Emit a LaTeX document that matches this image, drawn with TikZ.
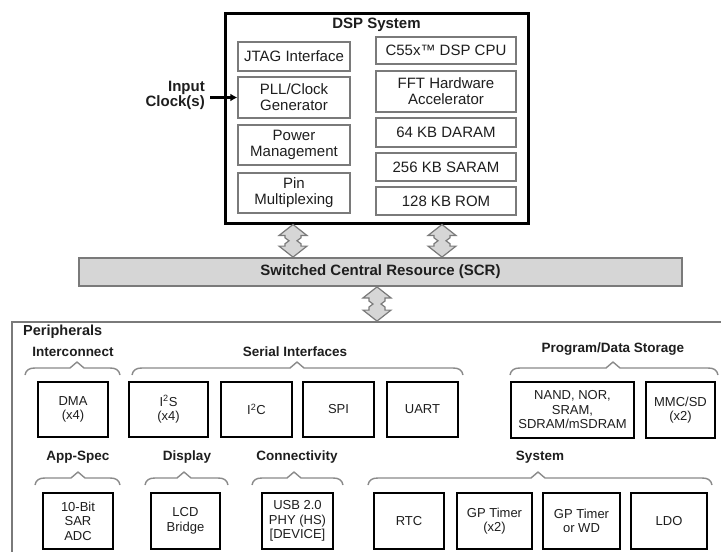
\documentclass[tikz,border=0pt]{standalone}
\usepackage{fontspec}
\setmainfont{Liberation Sans}
\usetikzlibrary{arrows.meta,calc}
\definecolor{edgegray}{HTML}{7A7A7A}
\definecolor{barfill}{HTML}{D6D6D6}
\definecolor{bracegray}{HTML}{8A8A8A}
\definecolor{txt}{HTML}{1E1E1E}
\tikzset{
  dspbox/.style={draw=black, line width=3pt, fill=white, inner sep=0pt},
  inbox/.style={draw=edgegray, line width=1.4pt, fill=white, inner sep=0pt, align=center,
    text=txt, font=\fontsize{15}{16}\selectfont},
  scrbar/.style={draw=edgegray, line width=1.8pt, fill=barfill, inner sep=0pt,
    text=txt, font=\bfseries\fontsize{15}{16}\selectfont},
  busarr/.style={draw=edgegray, line width=1.2pt, fill=barfill},
  contbox/.style={draw=edgegray, line width=1.8pt, fill=white, inner sep=0pt},
  pbox/.style={draw=black, line width=2.6pt, fill=white, inner sep=0pt, align=center,
    text=txt, font=\fontsize{13}{14.5}\selectfont},
  grp/.style={text=txt, font=\bfseries\fontsize{13.5}{15}\selectfont, inner sep=0pt},
  brc/.style={draw=bracegray, line width=1.4pt, line join=round},
  ttl/.style={text=txt, font=\bfseries\fontsize{15}{16}\selectfont, inner sep=0pt},
}
\newcommand\busarrow[2]{%
  \path[busarr] let \p1=(#1), \p2=(#2) in
   (\x1,\y1) -- ({\x1+14pt},{\y1-11pt}) -- ({\x1+8pt},{\y1-11pt})
   -- ({\x1+8pt},{(\y1+\y2)/2+3pt}) -- ({\x1+4pt},{(\y1+\y2)/2}) -- ({\x1+8pt},{(\y1+\y2)/2-3pt})
   -- ({\x1+8pt},{\y2+11pt}) -- ({\x1+14pt},{\y2+11pt}) -- (\x1,\y2)
   -- ({\x1-14pt},{\y2+11pt}) -- ({\x1-8pt},{\y2+11pt})
   -- ({\x1-8pt},{(\y1+\y2)/2-3pt}) -- ({\x1-4pt},{(\y1+\y2)/2}) -- ({\x1-8pt},{(\y1+\y2)/2+3pt})
   -- ({\x1-8pt},{\y1-11pt}) -- ({\x1-14pt},{\y1-11pt}) -- cycle;}
\newcommand\mybrace[4]{%
  \draw[brc] (#1,#4) .. controls ({#1+1},{#4-5}) and ({#1+4},{#4-7}) .. ({#1+10},{#4-7})
   -- ({#2-7},{#4-7}) -- (#2,{#4-13}) -- ({#2+7},{#4-7}) -- ({#3-10},{#4-7})
   .. controls ({#3-4},{#4-7}) and ({#3-1},{#4-5}) .. (#3,#4);}
\begin{document}
\begin{tikzpicture}[x=1pt,y=-1pt]
\useasboundingbox[fill=white] (0,0) rectangle (721,552);

% DSP system
\node[dspbox, minimum width=303, minimum height=210] (dsp) at (376.5,118) {};
\node[ttl] (dsptitle) at (376.5,25) {DSP System};
\node[inbox, minimum width=112, minimum height=29] (jtag) at (294,56.5) {JTAG Interface};
\node[inbox, minimum width=112, minimum height=41] (pll) at (294,97.5) {PLL/Clock\\Generator};
\node[inbox, minimum width=112, minimum height=40] (pwr) at (294,145) {Power\\Management};
\node[inbox, minimum width=112, minimum height=40] (pin) at (294,193) {Pin\\Multiplexing};
\node[inbox, minimum width=140, minimum height=27] (cpu) at (446,50.5) {C55x™ DSP CPU};
\node[inbox, minimum width=140, minimum height=41] (fft) at (446,91.5) {FFT Hardware\\Accelerator};
\node[inbox, minimum width=140, minimum height=29] (daram) at (446,132.5) {64 KB DARAM};
\node[inbox, minimum width=140, minimum height=28] (saram) at (446,167) {256 KB SARAM};
\node[inbox, minimum width=140, minimum height=28] (rom) at (446,201) {128 KB ROM};

% input clock
\node[ttl, align=right, anchor=east, font=\bfseries\fontsize{15}{15}\selectfont] (clk) at (205,95) {Input\\Clock(s)};
\draw[line width=2.5pt, -{Latex[length=7pt,width=8pt]}] ([xshift=5pt]clk.east |- pll.west) -- (pll.west);

% SCR
\node[scrbar, minimum width=603, minimum height=28] (scr) at (380.5,272) {Switched Central Resource (SCR)};

% peripherals container
\node[contbox, minimum width=728, minimum height=248] (per) at (376,446) {};
\node[ttl, anchor=west, font=\bfseries\fontsize{14.5}{15}\selectfont] (pertitle) at (23,332) {Peripherals};

% bus arrows
\coordinate (a1) at (293,0);
\coordinate (a2) at (442,0);
\coordinate (a3) at (377,0);
\busarrow{dsp.south -| a1}{scr.north -| a1}
\busarrow{dsp.south -| a2}{scr.north -| a2}
\busarrow{scr.south -| a3}{per.north -| a3}

% group labels
\node[grp] (gic) at (73,352) {Interconnect};
\node[grp] (gser) at (295,352) {Serial Interfaces};
\node[grp] (gprog) at (613,349) {Program/Data Storage};
\node[grp] (gapp) at (78,457) {App-Spec};
\node[grp] (gdisp) at (187,457) {Display};
\node[grp] (gconn) at (297,457) {Connectivity};
\node[grp] (gsys) at (540,457) {System};

% braces
\mybrace{25}{77}{120}{375}
\mybrace{132}{297}{463}{375}
\mybrace{510}{613}{718}{375}
\mybrace{35}{78}{120}{485}
\mybrace{145}{184}{228}{485}
\mybrace{252}{294}{343}{485}
\mybrace{368}{538}{712}{485}

% peripheral blocks row 1
\node[pbox, minimum width=70, minimum height=55] (dma) at (73,409.5) {DMA\\(x4)};
\node[pbox, minimum width=79, minimum height=55] (i2s) at (168.5,409.5) {I\textsuperscript{2}S\\(x4)};
\node[pbox, minimum width=71, minimum height=55] (i2c) at (256.5,409.5) {I\textsuperscript{2}C};
\node[pbox, minimum width=71, minimum height=55] (spi) at (338.5,409.5) {SPI};
\node[pbox, minimum width=71, minimum height=55] (uart) at (422.5,409.5) {UART};
\node[pbox, minimum width=123, minimum height=56] (nand) at (572.5,410) {NAND, NOR,\\SRAM,\\SDRAM/mSDRAM};
\node[pbox, minimum width=69, minimum height=56] (mmc) at (680.5,410) {MMC/SD\\(x2)};

% peripheral blocks row 2
\node[pbox, minimum width=70, minimum height=56] (adc) at (78,521) {10-Bit\\SAR\\ADC};
\node[pbox, minimum width=69, minimum height=56] (lcd) at (185.5,521) {LCD\\Bridge};
\node[pbox, minimum width=71, minimum height=56] (usb) at (297.5,521) {USB 2.0\\PHY (HS)\\{[DEVICE]}};
\node[pbox, minimum width=70, minimum height=56] (rtc) at (409,521) {RTC};
\node[pbox, minimum width=75, minimum height=56] (gpt) at (494.5,521) {GP Timer\\(x2)};
\node[pbox, minimum width=77, minimum height=56] (gpw) at (581.5,521) {GP Timer\\or WD};
\node[pbox, minimum width=76, minimum height=56] (ldo) at (669,521) {LDO};
\end{tikzpicture}
\end{document}
